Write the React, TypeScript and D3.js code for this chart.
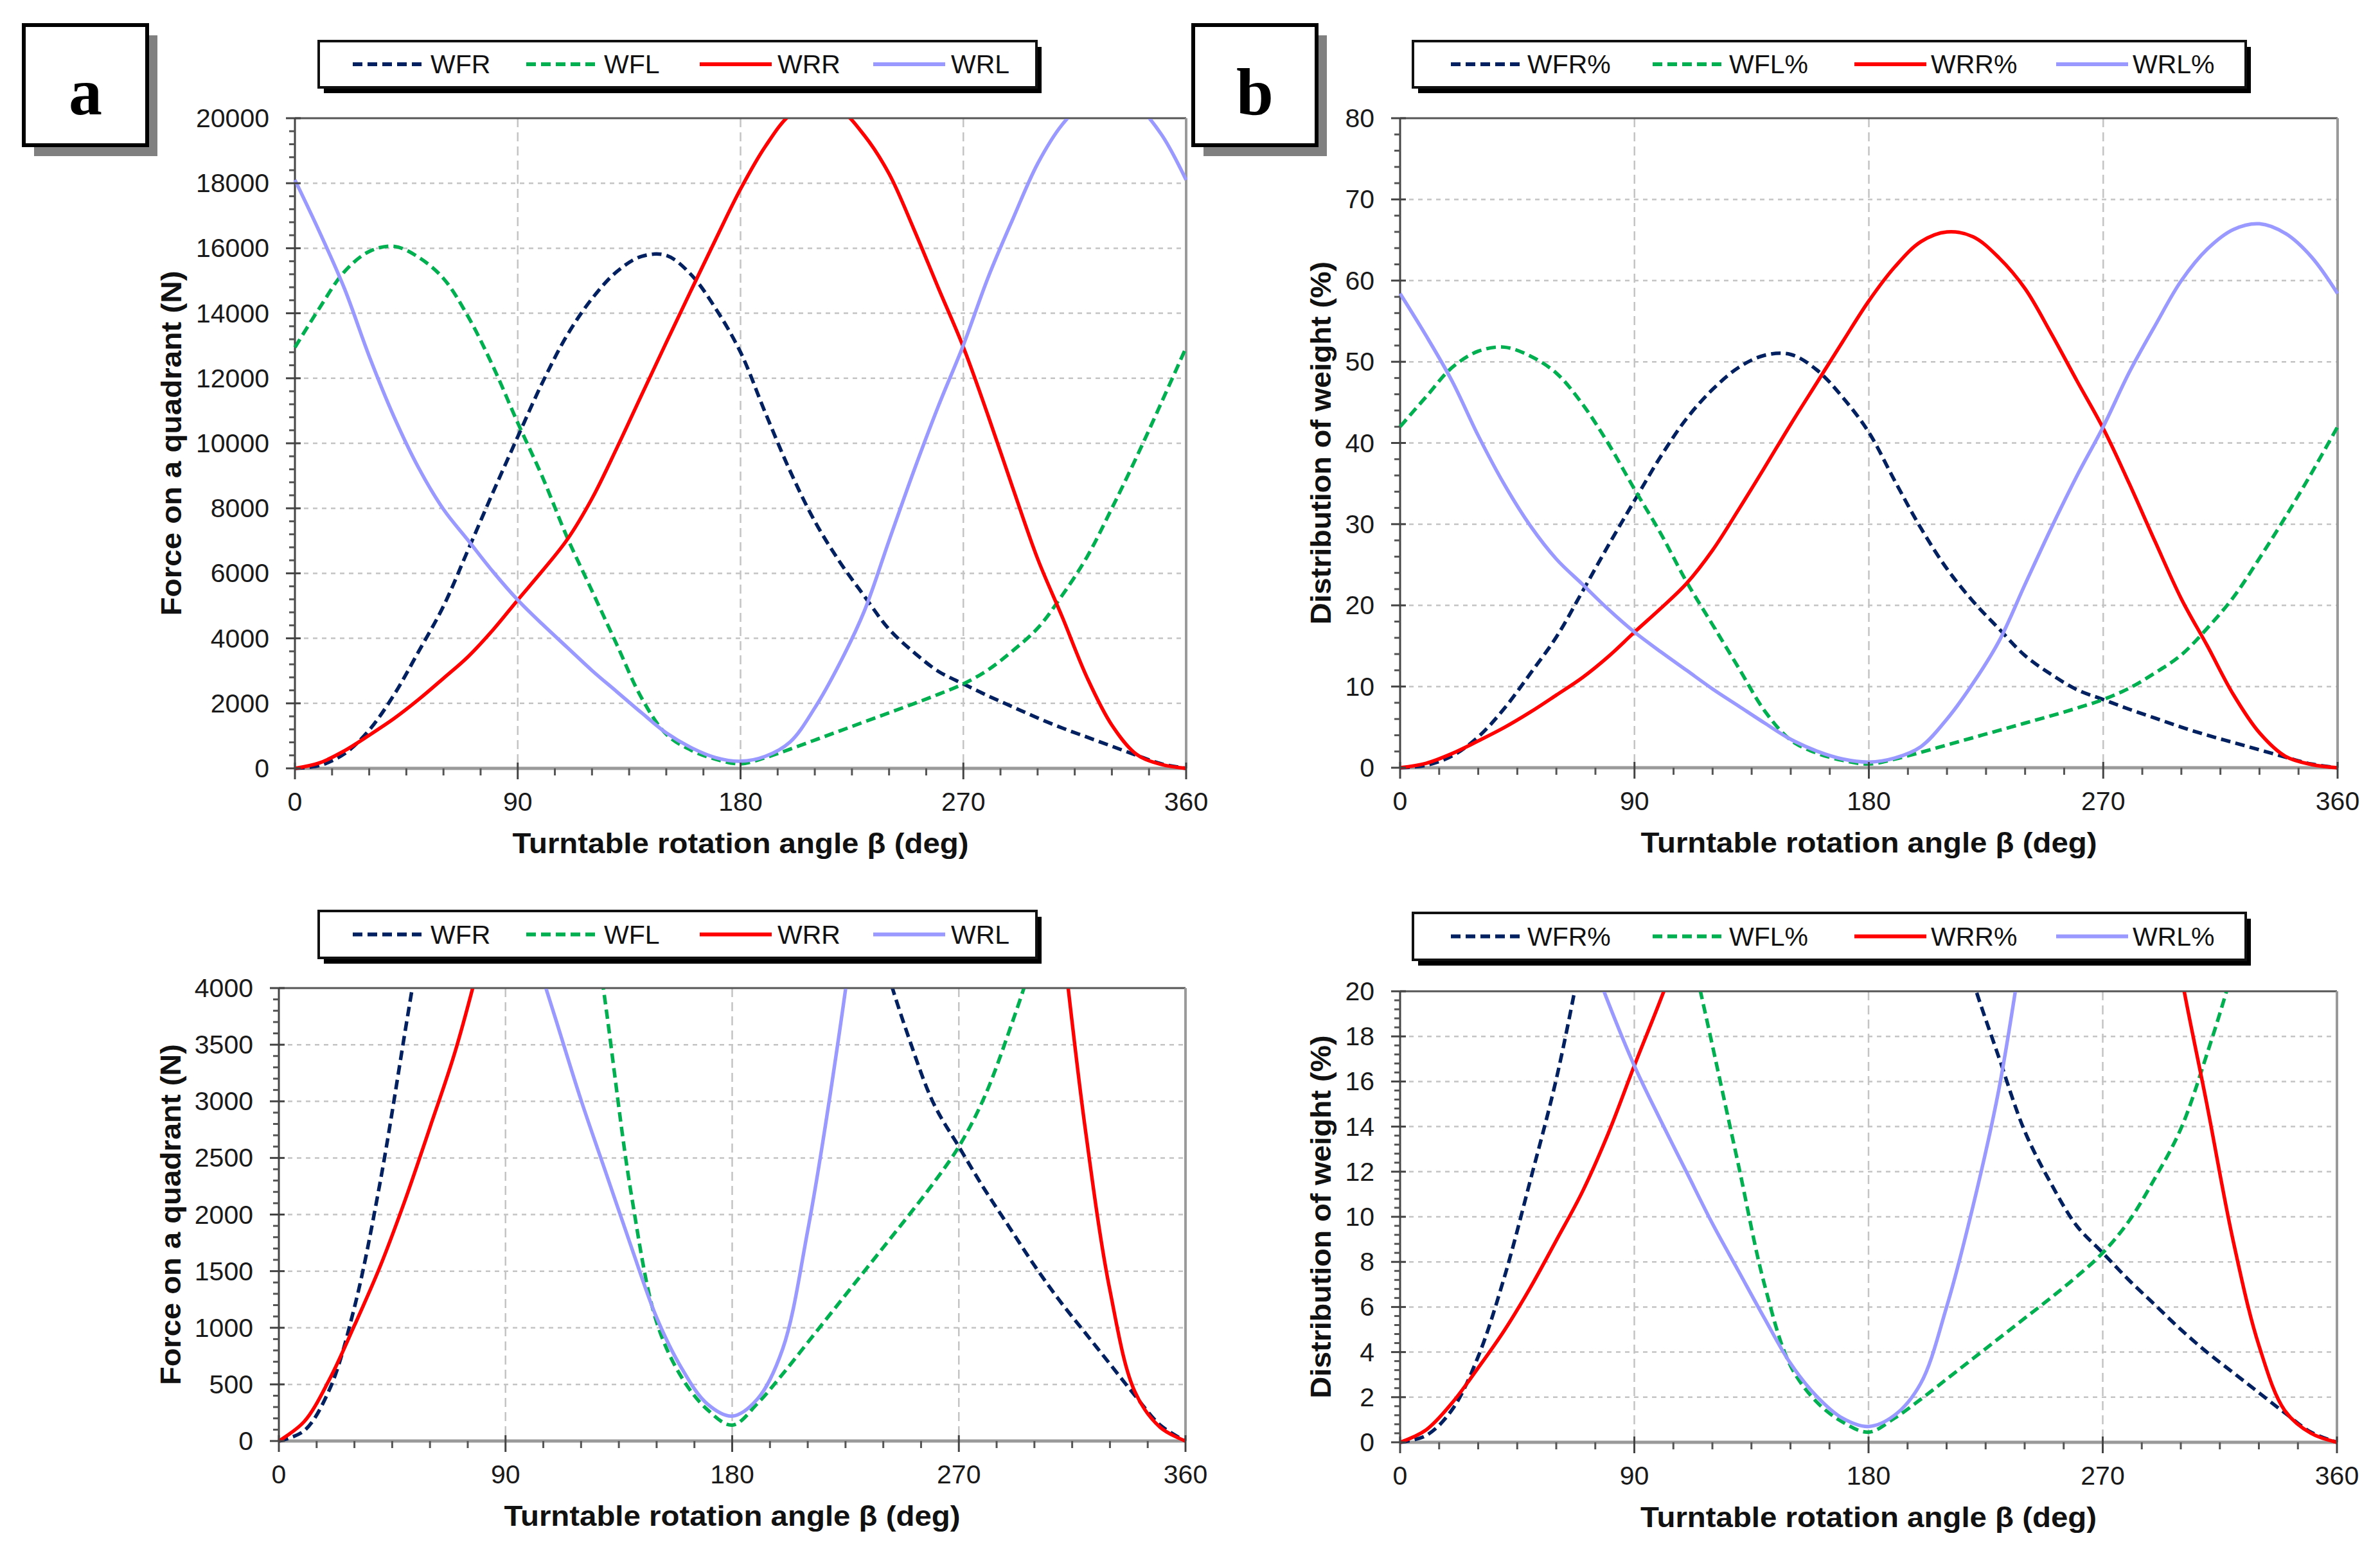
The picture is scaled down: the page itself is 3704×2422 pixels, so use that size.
import React from 'react';
import * as d3 from 'd3';

// turntable rotation angle (deg), one reading every 10 deg
const angles = [0, 10, 20, 30, 40, 50, 60, 70, 80, 90, 100, 110, 120, 130, 140, 150, 160, 170, 180,
  190, 200, 210, 220, 230, 240, 250, 260, 270, 280, 290, 300, 310, 320, 330, 340, 350, 360];

// force on each quadrant (N) - panels a and c
const wfrForce = [0, 90, 450, 1180, 2260, 3600, 4990, 6730, 8490, 10200, 11870, 13330, 14450, 15280, 15750, 15780, 15190, 14140, 12800,
  10940, 9150, 7600, 6360, 5300, 4280, 3570, 2980, 2600, 2230, 1890, 1550, 1240, 960, 680, 400, 140, 0];
const wflForce = [12950, 14170, 15280, 15900, 16060, 15720, 15070, 13890, 12370, 10630, 8960, 7100, 5460, 3810, 2170, 1050, 560, 280, 140,
  330, 590, 870, 1150, 1430, 1710, 1990, 2280, 2600, 3030, 3620, 4310, 5330, 6510, 8000, 9580, 11250, 12950];
const wrrForce = [0, 170, 540, 1020, 1530, 2120, 2770, 3440, 4260, 5180, 6080, 7040, 8300, 9850, 11480, 13100, 14700, 16280, 17820,
  19130, 20100, 20460, 20270, 19470, 18290, 16590, 14760, 12960, 10850, 8620, 6450, 4650, 2790, 1330, 430, 120, 0];
const wrlForce = [18100, 16490, 14760, 12680, 10820, 9240, 7970, 7010, 6050, 5180, 4430, 3720, 3010, 2360, 1710, 1090, 640, 330, 220,
  370, 810, 1860, 3220, 4840, 7010, 9150, 11160, 13020, 15100, 16900, 18600, 19810, 20550, 20770, 20400, 19500, 18100];

// distribution of weight (%) - panels b and d
const wfrShare = [0, 0.3, 1.45, 3.8, 7.3, 11.6, 16.1, 21.7, 27.4, 32.9, 38.3, 43.0, 46.6, 49.3, 50.8, 50.9, 49.0, 45.6, 41.3,
  35.3, 29.5, 24.5, 20.5, 17.1, 13.8, 11.5, 9.6, 8.4, 7.2, 6.1, 5.0, 4.0, 3.1, 2.2, 1.3, 0.45, 0];
const wflShare = [42.0, 45.7, 49.3, 51.3, 51.8, 50.7, 48.6, 44.8, 39.9, 34.3, 28.9, 22.9, 17.6, 12.3, 7.0, 3.4, 1.8, 0.9, 0.45,
  1.07, 1.9, 2.8, 3.7, 4.6, 5.5, 6.4, 7.35, 8.4, 9.8, 11.7, 13.9, 17.2, 21.0, 25.8, 30.9, 36.3, 42.0];
const wrrShare = [0, 0.55, 1.75, 3.3, 4.95, 6.85, 8.95, 11.1, 13.7, 16.7, 19.6, 22.7, 26.8, 31.8, 37.0, 42.3, 47.4, 52.5, 57.5,
  61.7, 64.8, 66.0, 65.4, 62.8, 59.0, 53.5, 47.6, 41.8, 35.0, 27.8, 20.8, 15.0, 9.0, 4.3, 1.4, 0.4, 0];
const wrlShare = [58.4, 53.2, 47.6, 40.9, 34.9, 29.8, 25.7, 22.6, 19.5, 16.7, 14.3, 12.0, 9.7, 7.6, 5.5, 3.5, 2.05, 1.07, 0.7,
  1.2, 2.6, 6.0, 10.4, 15.6, 22.6, 29.5, 36.0, 42.0, 48.7, 54.5, 60.0, 63.9, 66.3, 67.0, 65.8, 62.9, 58.4];

const forceNames = ['WFR', 'WFL', 'WRR', 'WRL'];
const shareNames = ['WFR%', 'WFL%', 'WRR%', 'WRL%'];

const xTicks = [0, 90, 180, 270, 360];
const forceTicksFull = [0, 2000, 4000, 6000, 8000, 10000, 12000, 14000, 16000, 18000, 20000];
const forceTicksZoom = [0, 500, 1000, 1500, 2000, 2500, 3000, 3500, 4000];
const shareTicksFull = [0, 10, 20, 30, 40, 50, 60, 70, 80];
const shareTicksZoom = [0, 2, 4, 6, 8, 10, 12, 14, 16, 18, 20];

const lineStyles = [
  { color: '#002060', dash: '15,8' },
  { color: '#00B050', dash: '15,8' },
  { color: '#FF0000', dash: undefined },
  { color: '#9999FF', dash: undefined },
];

const sans = '"Liberation Sans", Arial, sans-serif';
const serif = '"Liberation Serif", "Times New Roman", serif';

type Box = { left: number; right: number; top: number; bottom: number };
type LegendBox = { x: number; y: number; w: number; h: number; start: number; step: number; textOffset: number };

interface PanelProps {
  id: string;
  plot: Box;
  yTicks: number[];
  series: number[][];
  names: string[];
  yTitle: string;
  yTitleX: number;
  yTitleLen: number;
  legend: LegendBox;
}

const Panel: React.FC<PanelProps> = ({ id, plot, yTicks, series, names, yTitle, yTitleX, yTitleLen, legend }) => {
  const x = d3.scaleLinear().domain([0, 360]).range([plot.left, plot.right]);
  const yMax = yTicks[yTicks.length - 1];
  const y = d3.scaleLinear().domain([0, yMax]).range([plot.bottom, plot.top]);
  const yStep = yTicks[1] - yTicks[0];

  const yMinor = d3.range(0, yMax + yStep / 10, yStep / 5)
    .filter(v => Math.abs(v / yStep - Math.round(v / yStep)) > 1e-6);
  const xMinor = d3.range(0, 361, 15).filter(v => v % 90 !== 0);

  const line = d3.line<number>()
    .x((d, i) => x(angles[i]))
    .y(d => y(d))
    .curve(d3.curveCatmullRom.alpha(0.5));

  const cx = (plot.left + plot.right) / 2;
  const cy = (plot.top + plot.bottom) / 2;
  const legendMid = legend.y + legend.h / 2;

  return (
    <g>
      {/* legend */}
      <rect x={legend.x + 8} y={legend.y + 9} width={legend.w} height={legend.h} fill="#000" />
      <rect x={legend.x} y={legend.y} width={legend.w} height={legend.h} fill="#fff" stroke="#111" strokeWidth={4} />
      {names.map((name, i) => {
        const lx = legend.start + i * legend.step;
        return (
          <g key={name}>
            <line x1={lx} x2={lx + 112} y1={legendMid} y2={legendMid}
              stroke={lineStyles[i].color} strokeWidth={6} strokeDasharray={lineStyles[i].dash} />
            <text x={lx + legend.textOffset} y={legendMid} dominantBaseline="central"
              fontFamily={sans} fontSize={41} fill="#111">{name}</text>
          </g>
        );
      })}

      {/* grid */}
      {yTicks.slice(1, -1).map(v => (
        <line key={'gy' + v} x1={plot.left} x2={plot.right} y1={y(v)} y2={y(v)}
          stroke="#c4c4c4" strokeWidth={2.5} strokeDasharray="7,7" />
      ))}
      {xTicks.slice(1, -1).map(v => (
        <line key={'gx' + v} x1={x(v)} x2={x(v)} y1={plot.top} y2={plot.bottom}
          stroke="#c4c4c4" strokeWidth={2.5} strokeDasharray="14,8" />
      ))}

      {/* frame */}
      <line x1={plot.left} x2={plot.right} y1={plot.top} y2={plot.top} stroke="#555" strokeWidth={3} />
      <line x1={plot.right} x2={plot.right} y1={plot.top} y2={plot.bottom} stroke="#9a9a9a" strokeWidth={4} />
      <line x1={plot.left} x2={plot.right} y1={plot.bottom} y2={plot.bottom} stroke="#9a9a9a" strokeWidth={5} />
      <line x1={plot.left} x2={plot.left} y1={plot.top} y2={plot.bottom} stroke="#444" strokeWidth={3} />

      {/* curves */}
      <defs>
        <clipPath id={'clip-' + id}>
          <rect x={plot.left - 6} y={plot.top + 1} width={plot.right - plot.left + 12} height={plot.bottom - plot.top + 8} />
        </clipPath>
      </defs>
      <g clipPath={`url(#clip-${id})`}>
        {series.map((vals, i) => (
          <path key={names[i]} d={line(vals) || ''} fill="none"
            stroke={lineStyles[i].color} strokeWidth={5.5} strokeDasharray={lineStyles[i].dash} />
        ))}
      </g>

      {/* y axis ticks */}
      {yMinor.map(v => (
        <line key={'my' + v} x1={plot.left - 9} x2={plot.left} y1={y(v)} y2={y(v)} stroke="#555" strokeWidth={3} />
      ))}
      {yTicks.map(v => (
        <g key={'ty' + v}>
          <line x1={plot.left - 14} x2={plot.left + 9} y1={y(v)} y2={y(v)} stroke="#444" strokeWidth={3} />
          <text x={plot.left - 40} y={y(v)} textAnchor="end" dominantBaseline="central"
            fontFamily={sans} fontSize={41} fill="#1a1a1a">{String(v)}</text>
        </g>
      ))}

      {/* x axis ticks */}
      {xMinor.map(v => (
        <line key={'mx' + v} x1={x(v)} x2={x(v)} y1={plot.bottom} y2={plot.bottom + 11} stroke="#555" strokeWidth={3} />
      ))}
      {xTicks.map(v => (
        <g key={'tx' + v}>
          <line x1={x(v)} x2={x(v)} y1={plot.bottom - 9} y2={plot.bottom + 17} stroke="#444" strokeWidth={3} />
          <text x={x(v)} y={plot.bottom + 66} textAnchor="middle"
            fontFamily={sans} fontSize={41} fill="#1a1a1a">{String(v)}</text>
        </g>
      ))}

      {/* titles */}
      <text x={cx} y={plot.bottom + 132} textAnchor="middle" fontFamily={sans} fontWeight="bold"
        fontSize={44} fill="#111" textLength={710} lengthAdjust="spacingAndGlyphs">
        Turntable rotation angle β (deg)
      </text>
      <text transform={`translate(${yTitleX},${cy}) rotate(-90)`} textAnchor="middle" dominantBaseline="central"
        fontFamily={sans} fontWeight="bold" fontSize={44} fill="#111"
        textLength={yTitleLen} lengthAdjust="spacingAndGlyphs">
        {yTitle}
      </text>
    </g>
  );
};

const PanelTag: React.FC<{ x: number; label: string }> = ({ x, label }) => (
  <g>
    <rect x={x + 16} y={55} width={192} height={188} fill="#808080" />
    <rect x={x} y={39} width={192} height={187} fill="#fff" stroke="#000" strokeWidth={6} />
    <text x={x + 96} y={178} textAnchor="middle" fontFamily={serif} fontWeight="bold" fontSize={104} fill="#000">
      {label}
    </text>
  </g>
);

const legendForce = { start: 549, step: 270, textOffset: 121 };
const legendShare = { start: 2258, step: 314, textOffset: 119 };

export default function App() {
  const forceSeries = [wfrForce, wflForce, wrrForce, wrlForce];
  const shareSeries = [wfrShare, wflShare, wrrShare, wrlShare];
  return (
    <div style={{ position: 'absolute', left: 0, top: 0, background: '#fff' }}>
      <svg width={3704} height={2422} viewBox="0 0 3704 2422" style={{ display: 'block' }}>
        <rect width={3704} height={2422} fill="#fff" />
        <PanelTag x={37} label="a" />
        <PanelTag x={1857} label="b" />
        <Panel id="a" plot={{ left: 459, right: 1846, top: 184, bottom: 1196 }}
          yTicks={forceTicksFull} series={forceSeries} names={forceNames}
          yTitle="Force on a quadrant (N)" yTitleX={266} yTitleLen={537}
          legend={{ x: 496, y: 64, w: 1117, h: 72, ...legendForce }} />
        <Panel id="b" plot={{ left: 2179, right: 3638, top: 184, bottom: 1195 }}
          yTicks={shareTicksFull} series={shareSeries} names={shareNames}
          yTitle="Distribution of weight (%)" yTitleX={2055} yTitleLen={565}
          legend={{ x: 2199, y: 64, w: 1296, h: 72, ...legendShare }} />
        <Panel id="c" plot={{ left: 434, right: 1845, top: 1538, bottom: 2243 }}
          yTicks={forceTicksZoom} series={forceSeries} names={forceNames}
          yTitle="Force on a quadrant (N)" yTitleX={265} yTitleLen={531}
          legend={{ x: 496, y: 1418, w: 1117, h: 73, ...legendForce }} />
        <Panel id="d" plot={{ left: 2179, right: 3637, top: 1543, bottom: 2245 }}
          yTicks={shareTicksZoom} series={shareSeries} names={shareNames}
          yTitle="Distribution of weight (%)" yTitleX={2055} yTitleLen={565}
          legend={{ x: 2199, y: 1421, w: 1296, h: 73, ...legendShare }} />
      </svg>
    </div>
  );
}
